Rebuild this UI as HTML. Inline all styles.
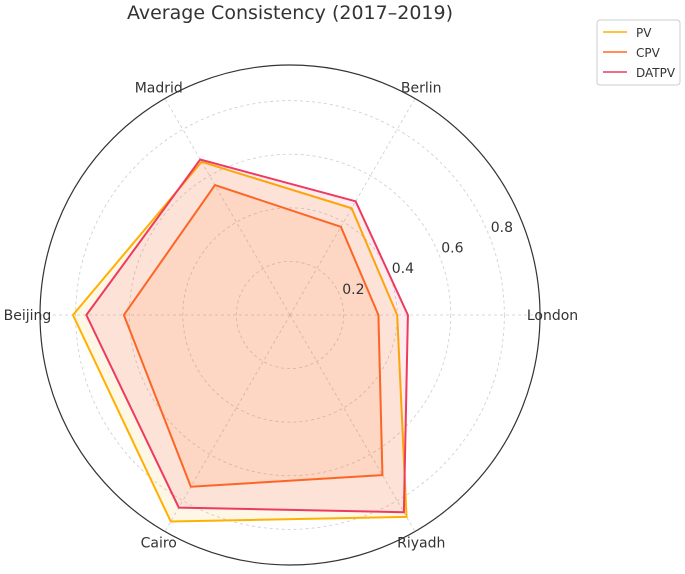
<!DOCTYPE html>
<html><head><meta charset="utf-8"><style>
body{margin:0;background:#fff;font-family:"Liberation Sans","DejaVu Sans",sans-serif;}
svg text{font-family:"DejaVu Sans","Liberation Sans",sans-serif;}
</style></head><body>
<svg id="chart" width="685" height="569" viewBox="0 0 685 569">
<text x="290" y="19" text-anchor="middle" font-size="19" fill="#333">Average Consistency (2017–2019)</text>
<g id="grid"></g><g id="series"></g><g id="labels"></g>
<g>
<rect x="597" y="20" width="83" height="65" rx="3" fill="#fff" stroke="#ccc"/>
<line x1="603" y1="32" x2="627" y2="32" stroke="#FFB000" stroke-width="1.6"/><text x="636" y="37" font-size="12" fill="#333">PV</text>
<line x1="603" y1="52" x2="627" y2="52" stroke="#FF6A1F" stroke-width="1.6"/><text x="636" y="57" font-size="12" fill="#333">CPV</text>
<line x1="603" y1="72" x2="627" y2="72" stroke="#EE3A5E" stroke-width="1.6"/><text x="636" y="77" font-size="12" fill="#333">DATPV</text>
</g>
</svg>
<script>
const categories=["London","Berlin","Madrid","Beijing","Cairo","Riyadh"];
const pv=[0.40,0.46,0.66,0.81,0.89,0.87];
const cpv=[0.33,0.38,0.56,0.62,0.74,0.69];
const datpv=[0.44,0.49,0.67,0.76,0.83,0.85];
const ticks=[0.2,0.4,0.6,0.8];
const NS="http://www.w3.org/2000/svg";
const cx=290,cy=315,R=250,rmax=0.933;
function rad(v){return v/rmax*R;}
function pt(i,v){const a=i*Math.PI*2/categories.length;return [cx+rad(v)*Math.cos(a),cy-rad(v)*Math.sin(a)];}
function ptR(i,r){const a=i*Math.PI*2/categories.length;return [cx+r*Math.cos(a),cy-r*Math.sin(a)];}
function mk(tag,attrs,parent){const e=document.createElementNS(NS,tag);for(const k in attrs)e.setAttribute(k,attrs[k]);parent.appendChild(e);return e;}
const grid=document.getElementById('grid'),ser=document.getElementById('series'),lab=document.getElementById('labels');
ticks.forEach(t=>{const c=mk('circle',{cx:cx,cy:cy,r:rad(t),fill:'none',stroke:'#ccc','stroke-dasharray':'3,3','stroke-width':0.8},grid);


const a=22.5*Math.PI/180;const tx=mk('text',{x:cx+(rad(t)+15)*Math.cos(a),y:cy-(rad(t)+15)*Math.sin(a)+5,'font-size':14,fill:'#333','text-anchor':'middle'},lab);tx.textContent=t.toFixed(1);

});
categories.forEach((c,i)=>{const p=ptR(i,R);const l=mk('line',{x1:cx,y1:cy,x2:p[0],y2:p[1],stroke:'#ccc','stroke-dasharray':'3,3','stroke-width':0.8},grid);


const q=ptR(i,R*1.05);const tx=mk('text',{x:q[0],y:q[1]+5,'font-size':14,fill:'#333','text-anchor':'middle'},lab);tx.textContent=c;

});
const outer=mk('circle',{cx:cx,cy:cy,r:R,fill:'none',stroke:'#333','stroke-width':1.2},grid);


function draw(vals,color,name){const pts=vals.map((v,i)=>pt(i,v).join(',')).join(' ');
const p=mk('polygon',{points:pts,fill:color,'fill-opacity':0.1,stroke:color,'stroke-width':2,'stroke-linejoin':'miter'},ser);

}
draw(pv,'#FFB000','series-pv');draw(cpv,'#FF6A1F','series-cpv');draw(datpv,'#EE3A5E','series-datpv');
</script>
</body></html>
